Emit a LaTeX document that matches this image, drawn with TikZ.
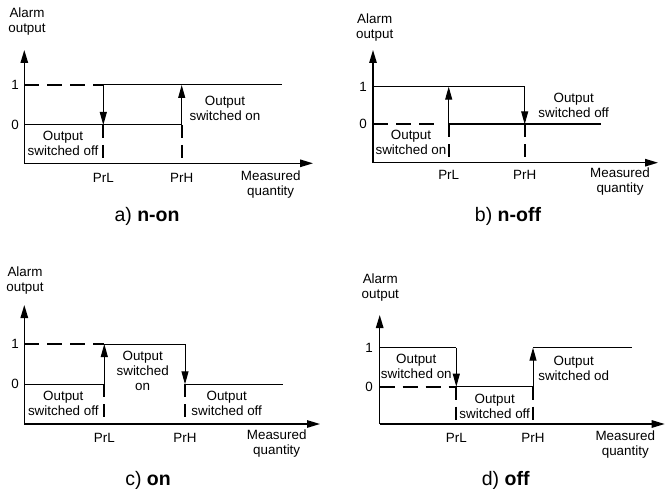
\documentclass[tikz,border=0pt]{standalone}
\usepackage{fontspec}
\setmainfont{Liberation Sans}
\usetikzlibrary{arrows.meta}
\begin{document}
\begin{tikzpicture}[x=1pt,y=-1pt,
  lbl/.style={inner sep=0pt,align=center,font=\fontsize{13.4}{15}\selectfont},
  capt/.style={inner sep=0pt,font=\fontsize{19.5}{21}\selectfont},
  axis/.style={line width=1.3pt,-{Triangle[length=13pt,width=7.5pt]}},
  lev/.style={line width=1pt},
  thk/.style={line width=2.2pt},
  hdash/.style={line width=2.3pt,dash pattern=on 15pt off 8pt},
  vdash/.style={line width=2.3pt,dash pattern=on 13pt off 7pt},
  trans/.style={line width=1pt,-{Triangle[length=13pt,width=7pt]}}]
\useasboundingbox (0,0) rectangle (666,489);
% ---------- panel a ----------
\coordinate (aO) at (24.3,163.3); \coordinate (aY) at (24.3,50); \coordinate (aX) at (313,163.3);
\coordinate (a1s) at (24.3,85); \coordinate (a0s) at (24.3,125);
\coordinate (aL1) at (103.3,85); \coordinate (aL0) at (103.3,125); \coordinate (aLb) at (103.3,163.3);
\coordinate (aH1) at (181.7,85); \coordinate (aH0) at (181.7,125); \coordinate (aHb) at (181.7,163.3);
\coordinate (aE1) at (281.7,85);
\draw[hdash] (a1s) -- (aL1);
\draw[lev] (aL1) -- (aE1);
\draw[lev] (a0s) -- (aH0);
\draw[trans] (aL1) -- (aL0);
\draw[trans] (aH0) -- (aH1);
\draw[vdash] (aL0) -- (aLb);
\draw[vdash] (aH0) -- (aHb);
\draw[axis] (aO) -- (aY);
\draw[axis] (aO) -- (aX);
\node[lbl] (aya) at (27,22) {Alarm\\output};
\node[lbl] (a1) at (15,85) {1};
\node[lbl] (a0) at (15,125) {0};
\node[lbl] (aoff) at (63,143.5) {Output\\switched off};
\node[lbl] (aon) at (225,108) {Output\\switched on};
\node[lbl] (aprl) at (103.3,178) {PrL};
\node[lbl] (aprh) at (181.7,178) {PrH};
\node[lbl] (amq) at (270.7,185) {Measured\\quantity};
\node[capt] (acap) at (147,216) {a) \textbf{n-on}};
% ---------- panel b ----------
\coordinate (bO) at (373,162.7); \coordinate (bY) at (373,50); \coordinate (bX) at (658,162.7);
\coordinate (b1s) at (373,86.7); \coordinate (b0s) at (373,124.3); \coordinate (b0d) at (438,124.3);
\coordinate (bL1) at (448.7,86.7); \coordinate (bL0) at (448.7,124.3); \coordinate (bLb) at (448.7,162.7);
\coordinate (bH1) at (524.7,86.7); \coordinate (bH0) at (524.7,124.3); \coordinate (bHb) at (524.7,162.7);
\coordinate (bE0) at (601,124.3);
\draw[hdash] (b0s) -- (b0d);
\draw[lev] (b1s) -- (bH1);
\draw[thk,line width=1.9pt] (bL0) -- (bE0);
\draw[trans] (bL0) -- (bL1);
\draw[trans] (bH1) -- (bH0);
\draw[vdash] (bL0) -- (bLb);
\draw[vdash] (bH0) -- (bHb);
\draw[axis] (bO) -- (bY);
\draw[axis] (bO) -- (bX);
\node[lbl] (bya) at (374.7,27.5) {Alarm\\output};
\node[lbl] (b1) at (363,86.7) {1};
\node[lbl] (b0) at (363,124.3) {0};
\node[lbl] (bon) at (411,142.5) {Output\\switched on};
\node[lbl] (boff) at (573.7,105) {Output\\switched off};
\node[lbl] (bprl) at (448.7,175) {PrL};
\node[lbl] (bprh) at (524.7,175) {PrH};
\node[lbl] (bmq) at (620,181.5) {Measured\\quantity};
\node[capt] (bcap) at (508,216) {b) \textbf{n-off}};
% ---------- panel c ----------
\coordinate (cO) at (24.3,424); \coordinate (cY) at (24.3,305); \coordinate (cX) at (320,424);
\coordinate (c1s) at (24.3,344); \coordinate (c0s) at (24.3,384.3);
\coordinate (cL1) at (104.3,344); \coordinate (cL0) at (104.3,384.3); \coordinate (cLb) at (104.3,424);
\coordinate (cH1) at (185,344); \coordinate (cH0) at (185,384.3); \coordinate (cHb) at (185,424);
\coordinate (cE0) at (282.7,384.3);
\draw[hdash] (c1s) -- (cL1);
\draw[lev] (c0s) -- (cL0);
\draw[lev] (cL1) -- (cH1);
\draw[lev] (cH0) -- (cE0);
\draw[trans] (cL0) -- (cL1);
\draw[trans] (cH1) -- (cH0);
\draw[vdash] (cL0) -- (cLb);
\draw[vdash] (cH0) -- (cHb);
\draw[axis] (cO) -- (cY);
\draw[axis] (cO) -- (cX);
\node[lbl] (cya) at (25,281) {Alarm\\output};
\node[lbl] (c1) at (15,344) {1};
\node[lbl] (c0) at (15,384.3) {0};
\node[lbl] (coff1) at (63.3,403) {Output\\switched off};
\node[lbl] (con) at (142.7,371) {Output\\switched\\on};
\node[lbl] (coff2) at (226.7,403) {Output\\switched off};
\node[lbl] (cprl) at (104.3,437.7) {PrL};
\node[lbl] (cprh) at (185,437.7) {PrH};
\node[lbl] (cmq) at (276.7,443.5) {Measured\\quantity};
\node[capt] (ccap) at (148,480.3) {c) \textbf{on}};
% ---------- panel d ----------
\coordinate (dO) at (379.7,424); \coordinate (dY) at (379.7,315); \coordinate (dX) at (664.7,424);
\coordinate (d1s) at (379.7,347.7); \coordinate (d0s) at (379.7,386.7);
\coordinate (dL1) at (456.3,347.7); \coordinate (dL0) at (456.3,386.7); \coordinate (dLb) at (456.3,424);
\coordinate (dH1) at (533,347.7); \coordinate (dH0) at (533,386.7); \coordinate (dHb) at (533,424);
\coordinate (dE1) at (632.3,347.7);
\draw[hdash] (d0s) -- (dL0);
\draw[lev] (d1s) -- (dL1);
\draw[lev] (dL0) -- (dH0);
\draw[lev] (dH1) -- (dE1);
\draw[trans] (dL1) -- (dL0);
\draw[trans] (dH0) -- (dH1);
\draw[vdash] (dL0) -- (dLb);
\draw[vdash] (dH0) -- (dHb);
\draw[axis] (dO) -- (dY);
\draw[axis] (dO) -- (dX);
\node[lbl] (dya) at (380.3,288) {Alarm\\output};
\node[lbl] (d1) at (369,347.7) {1};
\node[lbl] (d0) at (369,386.7) {0};
\node[lbl] (don) at (416.3,366.5) {Output\\switched on};
\node[lbl] (doff) at (494.7,406) {Output\\switched off};
\node[lbl] (dod) at (573.7,368.5) {Output\\switched od};
\node[lbl] (dprl) at (456.3,437.7) {PrL};
\node[lbl] (dprh) at (533,437.7) {PrH};
\node[lbl] (dmq) at (625.3,445) {Measured\\quantity};
\node[capt] (dcap) at (505.7,480) {d) \textbf{off}};
\end{tikzpicture}
\end{document}
